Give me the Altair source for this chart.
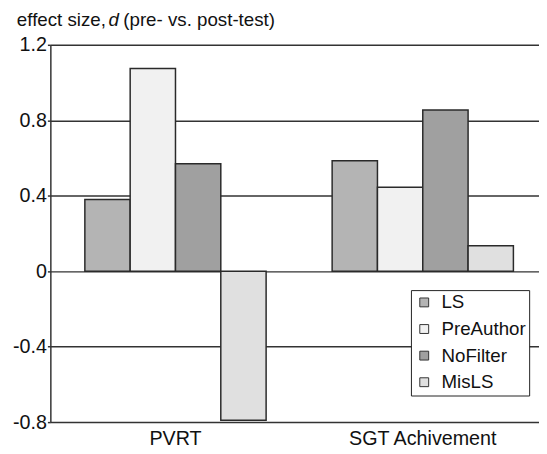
import altair as alt
import pandas as pd

groups = ["PVRT", "SGT Achivement"]
series = ["LS", "PreAuthor", "NoFilter", "MisLS"]
values_pvrt = [0.38, 1.075, 0.57, -0.79]
values_sgt = [0.585, 0.445, 0.855, 0.135]
fills = ["#b4b4b4", "#f1f1f1", "#a0a0a0", "#e0e0e0"]
y_ticks = [-0.8, -0.4, 0, 0.4, 0.8, 1.2]

rows = []
for s, v in zip(series, values_pvrt):
    rows.append({"group": groups[0], "series": s, "d": v})
for s, v in zip(series, values_sgt):
    rows.append({"group": groups[1], "series": s, "d": v})
df = pd.DataFrame(rows)

FONT = "Liberation Sans"

bars = alt.Chart(df).mark_bar(stroke="#2a2a2a", strokeWidth=1.5).encode(
    x=alt.X("group:N", sort=groups, title=None,
            scale=alt.Scale(paddingInner=0.267, paddingOuter=0.1215, align=0.574),
            axis=alt.Axis(labelAngle=0, labelFontSize=20, labelFont=FONT, labelColor="#111",
                          ticks=False, domain=False, labelPadding=7)),
    xOffset=alt.XOffset("series:N", sort=series,
                        scale=alt.Scale(domain=series, paddingInner=0, paddingOuter=0)),
    y=alt.Y("d:Q", title=None,
            scale=alt.Scale(domain=[-0.8, 1.2], nice=False, zero=False),
            axis=alt.Axis(values=y_ticks,
                          labelExpr="datum.value == 0 ? '0' : (datum.value < 0 ? '-' : '') + format(abs(datum.value), '.1f')",
                          labelFontSize=20, labelFont=FONT, labelColor="#111",
                          grid=True, gridColor="#333", gridWidth=1.5,
                          domainColor="#333", domainWidth=1.5,
                          tickColor="#333", tickSize=3, tickWidth=1.5, labelPadding=1)),
    color=alt.Color("series:N", sort=series,
                    scale=alt.Scale(domain=series, range=fills),
                    legend=alt.Legend(title=None, orient="none", legendX=366, legendY=249,
                                      fillColor="white", strokeColor="#222",
                                      padding=3, rowPadding=7, symbolType="square", symbolSize=81,
                                      symbolStrokeColor="#333", symbolStrokeWidth=1,
                                      symbolOffset=1, labelOffset=8,
                                      labelFontSize=19, labelFont=FONT, labelColor="#111")),
)

t1 = alt.Chart().mark_text(text="effect size,", align="left", baseline="alphabetic",
                           fontSize=19, font=FONT, color="#111").encode(
    x=alt.value(-34), y=alt.value(-19))
t2 = alt.Chart().mark_text(text="d", align="left", baseline="alphabetic", fontStyle="italic",
                           fontSize=19, font=FONT, color="#111").encode(
    x=alt.value(59), y=alt.value(-19))
t3 = alt.Chart().mark_text(text="(pre- vs. post-test)", align="left", baseline="alphabetic",
                           fontSize=19, font=FONT, color="#111").encode(
    x=alt.value(74), y=alt.value(-19))

chart = alt.layer(bars, t1, t2, t3).properties(
    width=496, height=383,
    autosize=alt.AutoSizeParams(type="none"),
    padding={"left": 43, "top": 34, "right": 0, "bottom": 29},
).configure_view(stroke=None)

chart.save("out.html", embed_options={"renderer": "svg", "actions": False})
